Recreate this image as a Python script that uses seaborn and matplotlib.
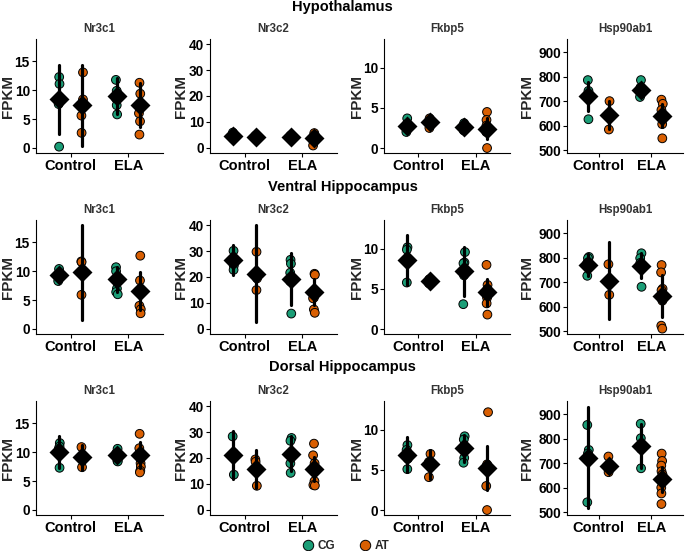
import numpy as np
import pandas as pd
import matplotlib
matplotlib.use("Agg")
import matplotlib.pyplot as plt
import seaborn as sns
from matplotlib.lines import Line2D

np.random.seed(3)

# ---------------- data ----------------
regions = ["Hypothalamus", "Ventral Hippocampus", "Dorsal Hippocampus"]
genes = ["Nr3c1", "Nr3c2", "Fkbp5", "Hsp90ab1"]
conditions = ["Control", "ELA"]
groups = ["CG", "AT"]
# group order in each list: Control-CG, Control-AT, ELA-CG, ELA-AT

HYP_NR3C1_PTS = [[12.3, 11.1, 7.6, 0.2], [13.1, 8.4, 5.6, 2.6],
                 [11.8, 9.9, 8.6, 7.4, 5.8], [11.3, 9.4, 7.6, 6.0, 4.6, 2.3]]
HYP_NR3C1_MEAN = [8.4, 7.4, 9.0, 7.4]
HYP_NR3C1_CI = [6.0, 7.0, 3.1, 3.8]

HYP_NR3C2_PTS = [[5.8, 4.6, 3.8, 3.5], [4.6, 4.0, 3.9],
                 [4.6, 4.2, 3.9, 4.0, 4.5], [5.6, 4.8, 3.0, 2.0, 0.8]]
HYP_NR3C2_MEAN = [4.3, 4.2, 4.2, 3.6]
HYP_NR3C2_CI = [1.0, 0.6, 0.5, 1.5]

HYP_FKBP5_PTS = [[3.7, 3.0, 2.7, 2.0], [3.7, 3.3, 3.0, 2.5],
                 [3.1, 2.8, 2.6, 2.3, 2.2], [4.5, 3.5, 2.8, 2.2, 2.0, 0.0]]
HYP_FKBP5_MEAN = [2.8, 3.2, 2.6, 2.4]
HYP_FKBP5_CI = [0.7, 0.5, 0.3, 1.3]

HYP_HSP_PTS = [[787, 743, 722, 627], [701, 650, 640, 585],
               [787, 757, 728, 718], [707, 690, 665, 635, 607, 549]]
HYP_HSP_MEAN = [720, 645, 748, 642]
HYP_HSP_CI = [60, 57, 25, 47]

VEN_NR3C1_PTS = [[10.4, 9.5, 8.3], [11.7, 11.6, 5.9],
                 [10.7, 10.0, 7.0, 6.4, 6.0], [12.7, 8.4, 6.2, 4.0, 3.4, 2.7]]
VEN_NR3C1_MEAN = [9.3, 9.8, 8.6, 6.5]
VEN_NR3C1_CI = [0.9, 8.2, 2.2, 3.3]

VEN_NR3C2_PTS = [[30.1, 27.0, 24.3, 22.7], [29.7, 19.4, 14.9],
                 [26.6, 25.1, 21.6, 18.3, 5.8], [21.2, 20.8, 14.5, 12.0, 11.7, 7.4, 6.1]]
VEN_NR3C2_MEAN = [26.6, 21.3, 19.2, 14.0]
VEN_NR3C2_CI = [5.9, 18.7, 10.1, 5.0]

VEN_FKBP5_PTS = [[10.2, 9.9, 5.8], [6.2, 5.9, 5.7],
                 [9.6, 8.3, 8.2, 6.7, 3.1], [8.0, 5.5, 5.0, 3.9, 3.2, 1.8]]
VEN_FKBP5_MEAN = [8.6, 6.0, 7.2, 4.6]
VEN_FKBP5_CI = [3.1, 0.3, 3.05, 1.7]

VEN_HSP_PTS = [[804, 799, 780, 727], [774, 700, 649],
               [819, 799, 780, 760, 682], [771, 741, 674, 668, 625, 523, 511]]
VEN_HSP_MEAN = [770, 707, 768, 645]
VEN_HSP_CI = [45, 158, 52, 85]

DOR_NR3C1_PTS = [[11.6, 11.0, 10.6, 7.3], [10.9, 8.8, 7.4],
                 [10.6, 9.8, 9.2, 8.5, 8.4], [13.2, 10.7, 9.4, 8.1, 7.5, 6.8, 6.5]]
DOR_NR3C1_MEAN = [10.1, 9.1, 9.5, 9.5]
DOR_NR3C1_CI = [2.8, 2.1, 0.8, 2.2]

DOR_NR3C2_PTS = [[28.3, 21.9, 13.5], [19.4, 18.5, 9.2],
                 [27.7, 26.6, 17.9, 14.2], [25.5, 21.0, 17.9, 16.5, 11.0, 9.5, 9.3]]
DOR_NR3C2_MEAN = [21.2, 15.7, 21.6, 15.8]
DOR_NR3C2_CI = [9.3, 7.4, 6.8, 4.6]

DOR_FKBP5_PTS = [[8.1, 7.5, 6.4, 5.1], [7.0, 6.0, 4.1],
                 [9.2, 8.8, 6.5, 5.9], [12.2, 5.7, 5.5, 3.0, 0.0]]
DOR_FKBP5_MEAN = [6.9, 5.7, 7.7, 5.2]
DOR_FKBP5_CI = [2.2, 1.8, 1.65, 2.75]

DOR_HSP_PTS = [[857, 755, 741, 541], [728, 690, 677, 664],
               [862, 803, 759, 680], [740, 710, 691, 668, 655, 601, 577, 534]]
DOR_HSP_MEAN = [724, 691, 773, 635]
DOR_HSP_CI = [208, 24, 90, 50]

PANELS = [
    [(HYP_NR3C1_PTS, HYP_NR3C1_MEAN, HYP_NR3C1_CI), (HYP_NR3C2_PTS, HYP_NR3C2_MEAN, HYP_NR3C2_CI),
     (HYP_FKBP5_PTS, HYP_FKBP5_MEAN, HYP_FKBP5_CI), (HYP_HSP_PTS, HYP_HSP_MEAN, HYP_HSP_CI)],
    [(VEN_NR3C1_PTS, VEN_NR3C1_MEAN, VEN_NR3C1_CI), (VEN_NR3C2_PTS, VEN_NR3C2_MEAN, VEN_NR3C2_CI),
     (VEN_FKBP5_PTS, VEN_FKBP5_MEAN, VEN_FKBP5_CI), (VEN_HSP_PTS, VEN_HSP_MEAN, VEN_HSP_CI)],
    [(DOR_NR3C1_PTS, DOR_NR3C1_MEAN, DOR_NR3C1_CI), (DOR_NR3C2_PTS, DOR_NR3C2_MEAN, DOR_NR3C2_CI),
     (DOR_FKBP5_PTS, DOR_FKBP5_MEAN, DOR_FKBP5_CI), (DOR_HSP_PTS, DOR_HSP_MEAN, DOR_HSP_CI)],
]

GENE_TICKS = {"Nr3c1": [0, 5, 10, 15], "Nr3c2": [0, 10, 20, 30, 40],
              "Fkbp5": [0, 5, 10], "Hsp90ab1": [500, 600, 700, 800, 900]}
GENE_YLIM = {"Nr3c1": (-0.9, 18.9), "Nr3c2": (-2.1, 42.0),
             "Fkbp5": (-0.62, 13.6), "Hsp90ab1": (489, 955)}

palette = {"CG": "#1B9E77", "AT": "#D95F02"}

# ---------------- style ----------------
sns.set_theme(style="ticks")
plt.rcParams["font.family"] = ["Liberation Sans", "DejaVu Sans"]
plt.rcParams["font.weight"] = "bold"
plt.rcParams["axes.labelweight"] = "bold"
plt.rcParams["axes.titleweight"] = "bold"

W, H = 685, 551
fig = plt.figure(figsize=(W / 100, H / 100), dpi=100)

col_px = [(36, 163), (210, 337), (384, 510), (567, 683)]
ylabel_px = [15, 188, 364, 534]
row_px = [(39, 153), (220, 334), (401, 515)]
row_title_y = [7, 187, 367]

keys = [(c, g) for c in conditions for g in groups]

for r, region in enumerate(regions):
    fig.text(0.5, 1 - row_title_y[r] / H, region, ha="center", va="center",
             fontsize=10.5, fontweight="bold", color="black")
    for c, gene in enumerate(genes):
        pts, means, cis = PANELS[r][c]
        l, rr = col_px[c]
        t, b = row_px[r]
        ax = fig.add_axes([l / W, 1 - b / H, (rr - l) / W, (b - t) / H])

        rows = []
        for (cond, grp), vals in zip(keys, pts):
            for v in vals:
                rows.append((cond, grp, v))
        df = pd.DataFrame(rows, columns=["Condition", "Group", "FPKM"])

        srows = []
        for (cond, grp), m, h in zip(keys, means, cis):
            srows.append((cond, grp, m - h))
            srows.append((cond, grp, m + h))
        sdf = pd.DataFrame(srows, columns=["Condition", "Group", "FPKM"])

        sns.stripplot(data=df, x="Condition", y="FPKM", hue="Group",
                      order=conditions, hue_order=groups, palette=palette,
                      dodge=True, jitter=0.035, size=6.3, edgecolor="black",
                      linewidth=0.7, legend=False, ax=ax, zorder=2)
        sns.pointplot(data=sdf, x="Condition", y="FPKM", hue="Group",
                      order=conditions, hue_order=groups,
                      palette={"CG": "black", "AT": "black"},
                      dodge=0.4, errorbar=("pi", 100), linestyle="none",
                      marker="D", markersize=8, err_kws={"linewidth": 2.3},
                      legend=False, ax=ax)

        ax.set_xlim(-0.6, 1.6)
        ax.set_ylim(*GENE_YLIM[gene])
        ax.set_yticks(GENE_TICKS[gene])
        ax.set_xlabel("")
        ax.set_ylabel("FPKM", fontsize=11, fontweight="bold")
        ax.yaxis.set_label_coords((ylabel_px[c] - l) / (rr - l), 0.5)
        ax.set_title(gene, fontsize=8.3, fontweight="bold", color="#333333", pad=5)
        sns.despine(ax=ax)
        for sp in ["left", "bottom"]:
            ax.spines[sp].set_linewidth(0.8)
            ax.spines[sp].set_color("black")
        ax.tick_params(axis="both", width=0.8, length=3, pad=1.5, colors="black")
        ax.tick_params(axis="y", labelsize=9.8)
        ax.tick_params(axis="x", labelsize=10.5)

handles = [Line2D([0], [0], marker="o", linestyle="none", markerfacecolor=palette[g],
                  markeredgecolor="black", markeredgewidth=0.7, markersize=7.5)
           for g in groups]
fig.legend(handles, groups, loc="center", bbox_to_anchor=(346.5 / W, 1 - 546 / H), ncol=2,
           frameon=False, fontsize=8.5, handlelength=0.8, handletextpad=0.4,
           columnspacing=2.1, borderpad=0.1)

fig.savefig("out.png", dpi=100)
